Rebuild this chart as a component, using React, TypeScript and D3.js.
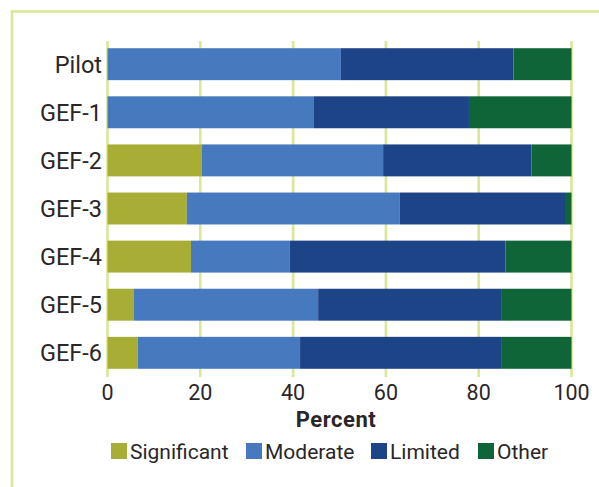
import React from "react";
import * as d3 from "d3";

const categories = ["Pilot", "GEF-1", "GEF-2", "GEF-3", "GEF-4", "GEF-5", "GEF-6"];
const seriesNames = ["Significant", "Moderate", "Limited", "Other"];
const significant = [0, 0, 20.3, 17.1, 18.0, 5.6, 6.5];
const moderate = [50.3, 44.5, 39.1, 45.9, 21.3, 39.8, 35.0];
const limited = [37.2, 33.4, 32.0, 35.6, 46.5, 39.6, 43.5];
const other = [12.5, 22.1, 8.6, 1.4, 14.2, 15.0, 15.0];
const xTicks = [0, 20, 40, 60, 80, 100];
const colors = ["#a8ad36", "#4679be", "#1e4488", "#0f6537"];

export default function App() {
  const W = 599, H = 487;
  const x = d3.scaleLinear().domain([0, 100]).range([107.5, 571.5]);
  const y = d3.scaleBand<string>().domain(categories).range([41, 376]).paddingInner(0.336).paddingOuter(0.15);
  const rows = categories.map((c, i) => ({
    cat: c,
    Significant: significant[i],
    Moderate: moderate[i],
    Limited: limited[i],
    Other: other[i],
  }));
  const stack = d3.stack<any>().keys(seriesNames)(rows);
  const font = "Roboto, 'DejaVu Sans', sans-serif";
  const grid = "#dbe797";
  const legendX = [111, 246, 371, 478];
  const textColor = "#2a2627";
  return (
    <svg width={W} height={H} style={{ position: "absolute", left: 0, top: 0, display: "block", background: "#fff" }} fontFamily={font}>
      <line x1={12} x2={12} y1={10} y2={H} stroke={grid} strokeWidth={2.6} />
      <line x1={10.7} x2={W} y1={11.5} y2={11.5} stroke={grid} strokeWidth={2.6} />
      {xTicks.map((t) => (
        <line key={t} x1={x(t)} x2={x(t)} y1={41} y2={377} stroke={grid} strokeWidth={2.6} />
      ))}
      {stack.map((s, si) => (
        <g key={s.key} fill={colors[si]}>
          {s.map((d, i) => (
            <rect key={i} x={x(d[0])} y={y(categories[i])} width={Math.max(0, x(d[1]) - x(d[0]))} height={y.bandwidth()} />
          ))}
        </g>
      ))}
      {categories.map((c) => (
        <text key={c} x={102} y={(y(c) as number) + y.bandwidth() / 2 + 8.5} textAnchor="end" fontSize={23.5} fill={textColor}>
          {c}
        </text>
      ))}
      {xTicks.map((t) => (
        <text key={t} x={x(t)} y={400} textAnchor="middle" fontSize={21.5} fill={textColor}>
          {t}
        </text>
      ))}
      <text x={336} y={427} textAnchor="middle" fontSize={22} fontWeight="bold" fill={textColor} letterSpacing={0.5}>
        Percent
      </text>
      {seriesNames.map((n, i) => (
        <g key={n}>
          <rect x={legendX[i]} y={443} width={16} height={16} fill={colors[i]} />
          <text x={legendX[i] + 19} y={459} fontSize={21} fill={textColor}>
            {n}
          </text>
        </g>
      ))}
    </svg>
  );
}
